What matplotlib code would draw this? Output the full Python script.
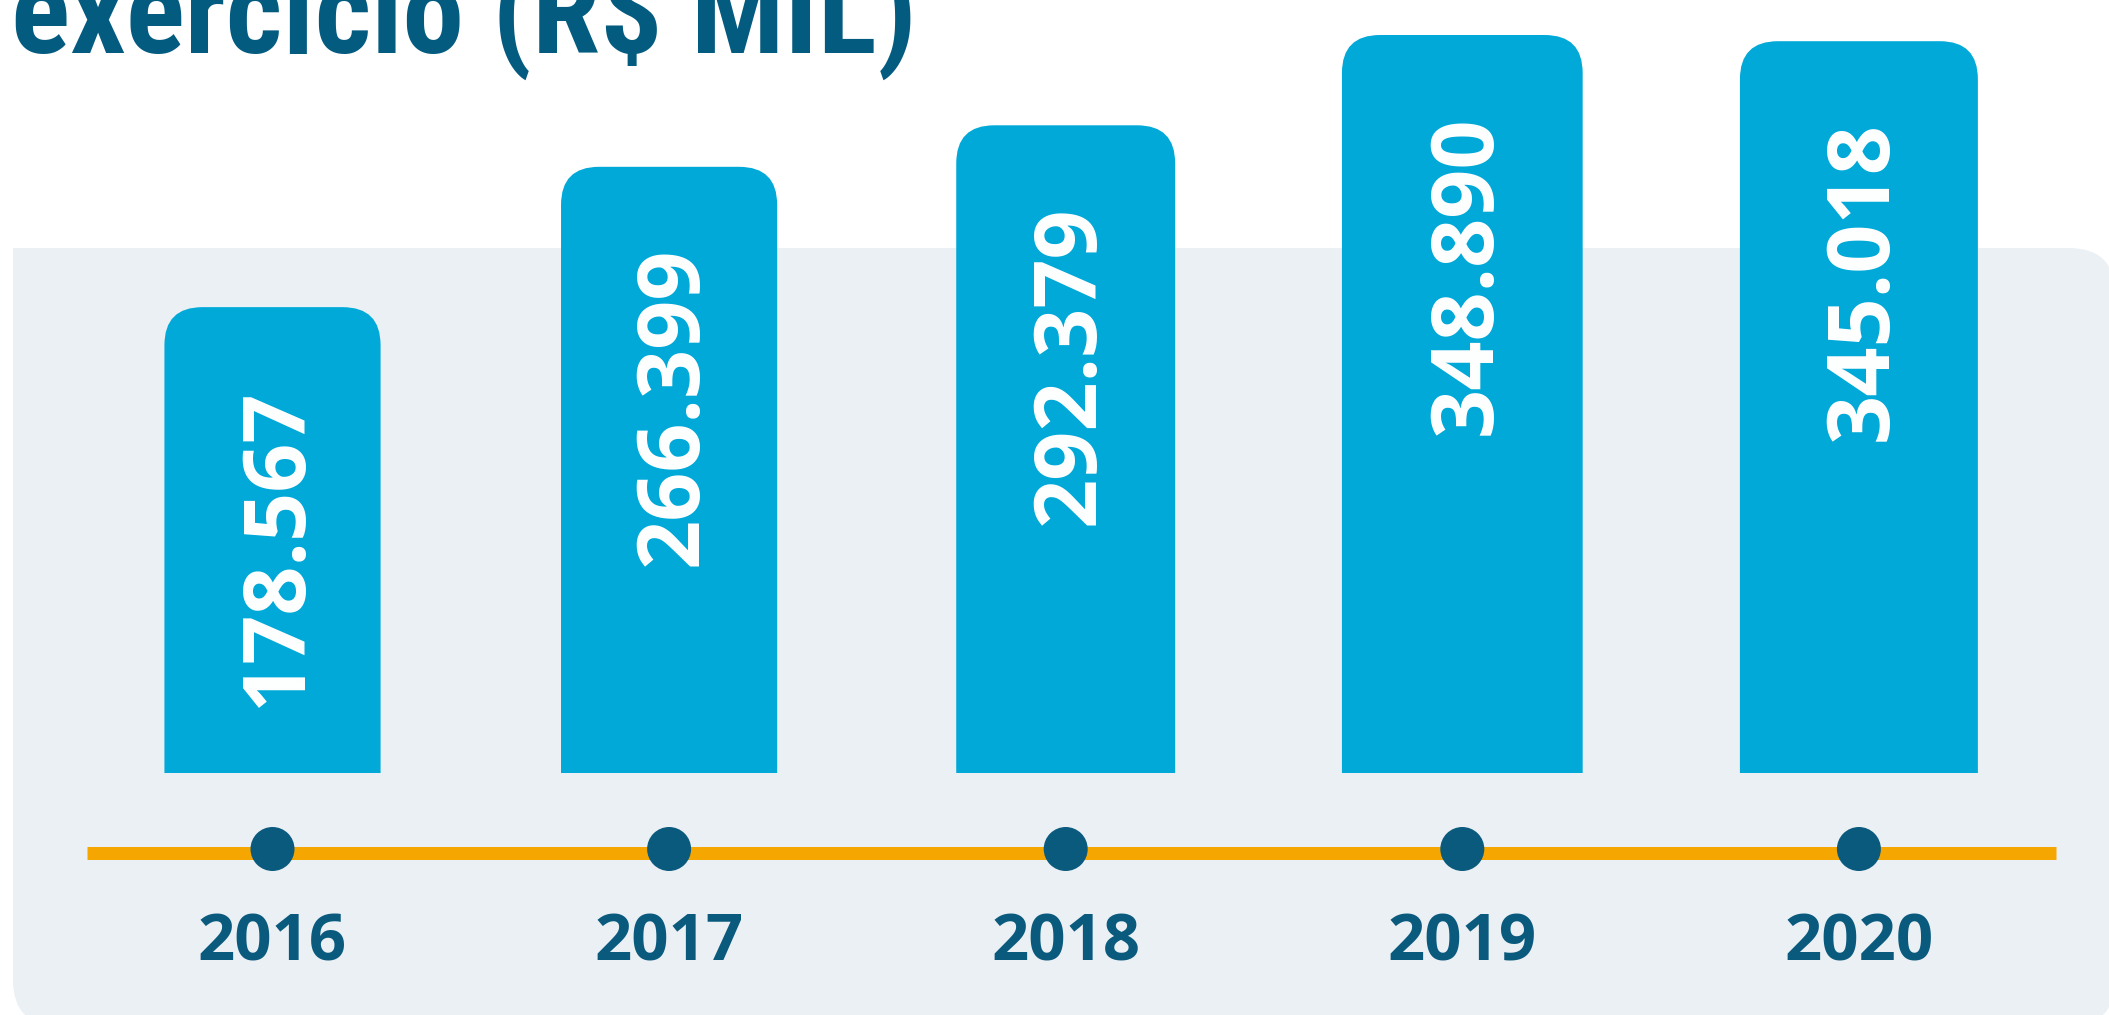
import matplotlib
matplotlib.use('Agg')
import matplotlib.pyplot as plt
from matplotlib import font_manager
from matplotlib.patches import FancyBboxPatch, Rectangle

# dados (R$ mil)
anos = ['2016', '2017', '2018', '2019', '2020']
resultado = [178567, 266399, 292379, 348890, 345018]
titulo = 'exercício (R$ MIL)'

W, H, DPI = 2109, 1015, 100

azul = '#00A9D8'
azul_escuro = '#0A5A7E'
laranja = '#F6A600'
cinza = '#EBF0F4'
cor_titulo = '#035B80'


def fonte(*nomes):
    """Primeira familia instalada da lista"""
    for n in nomes:
        try:
            font_manager.findfont(font_manager.FontProperties(family=n),
                                  fallback_to_default=False)
            return n
        except ValueError:
            pass
    return 'DejaVu Sans'


f_num = fonte('Open Sans', 'Noto Sans', 'DejaVu Sans')
f_tit = fonte('Roboto Condensed', 'Liberation Sans Narrow', 'DejaVu Sans Condensed',
              'Open Sans Condensed', 'Roboto', 'DejaVu Sans')

# layout em pixels
x_px0, dx_px = 272.5, 396.6          # centro da primeira barra, passo
base_px = 773                        # base das barras
larg = [0.545, 0.545, 0.552, 0.607, 0.600]
y_min, y_max = -113000, 370800       # escala truncada das barras
raio_px = 38

fig = plt.figure(figsize=(W / DPI, H / DPI), dpi=DPI)
xlim = (-x_px0 / dx_px, (W - x_px0) / dx_px)

# fundo (pixels)
ax_px = fig.add_axes([0, 0, 1, 1], zorder=0)
ax_px.set_xlim(0, W)
ax_px.set_ylim(H, 0)
ax_px.axis('off')
ax_px.add_patch(FancyBboxPatch((13, 248), 2102, 778,
                               boxstyle='round,pad=0,rounding_size=46',
                               fc=cinza, ec='none'))
ax_px.add_patch(Rectangle((13, 248), 80, 80, fc=cinza, ec='none'))

# linha do tempo (x em categorias, y em pixels)
ax_tl = fig.add_axes([0, 0, 1, 1], zorder=1)
ax_tl.set_xlim(*xlim)
ax_tl.set_ylim(H, 0)
ax_tl.axis('off')
xs = list(range(len(anos)))
ax_tl.hlines(852.5, (87 - x_px0) / dx_px, (2056 - x_px0) / dx_px,
             color=laranja, lw=13 * 72 / DPI, zorder=1)
ax_tl.scatter(xs, [849] * len(xs), s=(44 * 72 / DPI) ** 2, color=azul_escuro,
              edgecolors='none', zorder=3)
for i, a in enumerate(anos):
    ax_tl.text(i, 944, a, ha='center', va='center', fontsize=47,
               fontweight='bold', family=f_num, color=azul_escuro)

# barras
ax = fig.add_axes([0, (H - base_px) / H, 1, base_px / H], zorder=2)
ax.set_xlim(*xlim)
ax.set_ylim(y_min, y_max)
ax.axis('off')
ax.patch.set_alpha(0)
px_y = base_px / (y_max - y_min)
aspecto = dx_px / px_y
r_x = raio_px / dx_px
extra = 60 / px_y
for i, v in enumerate(resultado):
    w = larg[i]
    ax.add_patch(FancyBboxPatch((i - w / 2, y_min - extra), w, v - y_min + extra,
                                boxstyle=f'round,pad=0,rounding_size={r_x}',
                                mutation_aspect=aspecto, fc=azul, ec='none'))
    rotulo = f'{v:,}'.replace(',', '.')
    ax.annotate(rotulo, xy=(i, v), xytext=(4, -80 * 72 / DPI),
                textcoords='offset points', rotation=90, ha='center', va='top',
                fontsize=62, fontweight='bold', family=f_num, color='white')

# titulo (cortado no topo)
t = fig.text(11 / W, 1 - 53 / H, titulo, ha='left', va='baseline', fontsize=100,
             fontweight='black', family=f_tit, color=cor_titulo)
r = fig.canvas.get_renderer()
larg_px = t.get_window_extent(r).width
t.set_fontsize(100 * 906 / larg_px)

fig.savefig('out.png', dpi=DPI)
